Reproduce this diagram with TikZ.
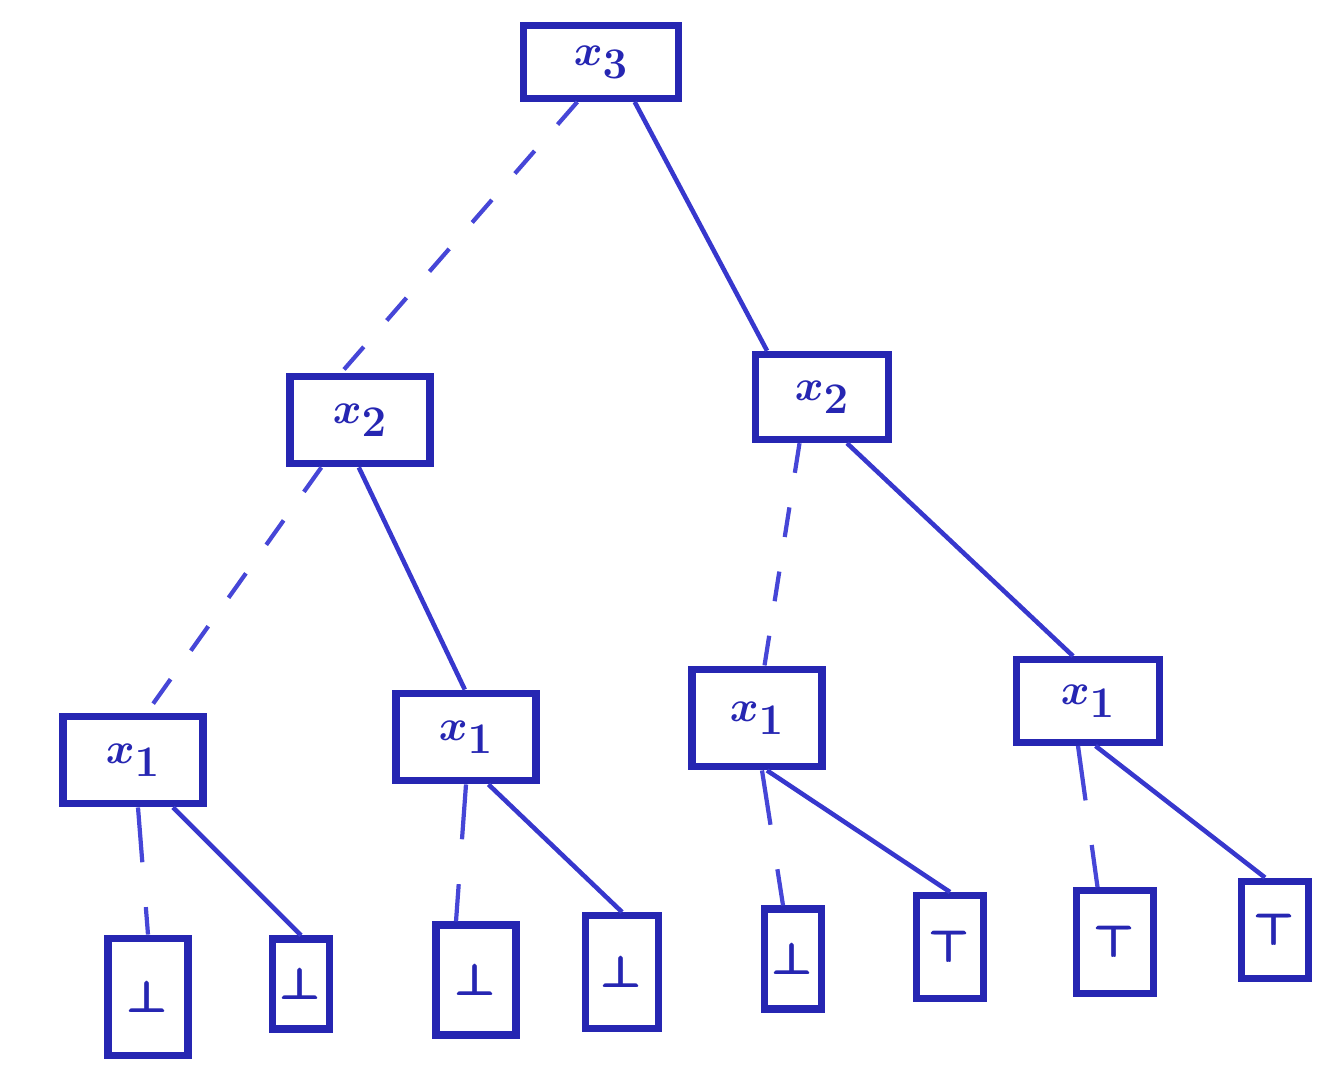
\documentclass[tikz,border=0pt]{standalone}
\usepackage{amsmath}
\begin{document}
\begin{tikzpicture}[x=0.02cm,y=-0.02cm,
  ink/.style={color={rgb,255:red,38;green,38;blue,178}},
  var/.style={ink,draw,line width=4.2pt,minimum width=2.8cm,minimum height=1.75cm,
    inner sep=0pt,font=\fontsize{46}{50}\selectfont\boldmath},
  leaf/.style={ink,draw,line width=4.2pt,minimum width=1.3cm,minimum height=2.0cm,
    inner sep=0pt,font=\fontsize{44}{48}\selectfont\boldmath},
  lo/.style={draw={rgb,255:red,70;green,70;blue,215},line width=2.4pt,dash pattern=on 0.6cm off 0.7cm},
  lolf/.style={draw={rgb,255:red,70;green,70;blue,215},line width=2.4pt,dash pattern=on 1.1cm off 0.9cm},
  hi/.style={draw={rgb,255:red,55;green,55;blue,205},line width=2.6pt}]
\useasboundingbox (0,0) rectangle (1334,1091);
% decision nodes
\node[var,minimum width=3.1cm,minimum height=1.45cm] (r) at (601,62) {$x_3$};
\node[var] (a) at (360,420) {$x_2$};
\node[var,minimum width=2.65cm,minimum height=1.7cm] (b) at (822,397) {$x_2$};
\node[var] (a1) at (133,760) {$x_1$};
\node[var] (a2) at (466,737) {$x_1$};
\node[var,minimum width=2.6cm,minimum height=1.95cm] (b1) at (757,718) {$x_1$};
\node[var,minimum width=2.85cm,minimum height=1.65cm] (b2) at (1088,701) {$x_1$};
% terminal nodes
\node[leaf,minimum width=1.6cm,minimum height=2.35cm] (l1) at (148,997) {$\pmb{\bot}$};
\node[leaf,minimum width=1.15cm,minimum height=1.8cm] (l2) at (301,984) {$\pmb{\bot}$};
\node[leaf,minimum width=1.6cm,minimum height=2.2cm] (l3) at (476,980) {$\pmb{\bot}$};
\node[leaf,minimum width=1.45cm,minimum height=2.25cm] (l4) at (622,972) {$\pmb{\bot}$};
\node[leaf,minimum width=1.15cm,minimum height=2.0cm] (l5) at (793,959) {$\pmb{\bot}$};
\node[leaf,minimum width=1.35cm,minimum height=2.05cm] (l6) at (950,947) {$\pmb{\top}$};
\node[leaf,minimum width=1.55cm,minimum height=2.05cm] (l7) at (1115,942) {$\pmb{\top}$};
\node[leaf,minimum width=1.35cm,minimum height=1.95cm] (l8) at (1275,930) {$\pmb{\top}$};
% low (dashed) and high (solid) edges
\draw[lo] ([xshift=1.15cm]r.south west) -- ([xshift=1.1cm]a.north west);
\draw[hi] ([xshift=-0.95cm]r.south east) -- ([xshift=0.3cm]b.north west);
\draw[lo] ([xshift=0.7cm]a.south west) -- ([xshift=1.75cm]a1.north west);
\draw[hi] ([xshift=1.45cm]a.south west) -- ([xshift=1.45cm]a2.north west);
\draw[lo] ([xshift=-0.45cm]b.south) -- ([xshift=0.15cm]b1.north);
\draw[hi] ([xshift=0.5cm]b.south) -- ([xshift=-0.3cm]b2.north);
\draw[lolf] ([xshift=0.1cm]a1.south) -- (l1.north);
\draw[hi] ([xshift=0.8cm]a1.south) -- (l2.north);
\draw[lolf] (a2.south) -- ([xshift=-0.4cm]l3.north);
\draw[hi] ([xshift=0.45cm]a2.south) -- (l4.north);
\draw[lolf] ([xshift=0.1cm]b1.south) -- ([xshift=-0.2cm]l5.north);
\draw[hi] ([xshift=0.2cm]b1.south) -- (l6.north);
\draw[lolf] ([xshift=-0.2cm]b2.south) -- ([xshift=-0.35cm]l7.north);
\draw[hi] ([xshift=0.15cm]b2.south) -- ([xshift=-0.2cm]l8.north);
\end{tikzpicture}
\end{document}
